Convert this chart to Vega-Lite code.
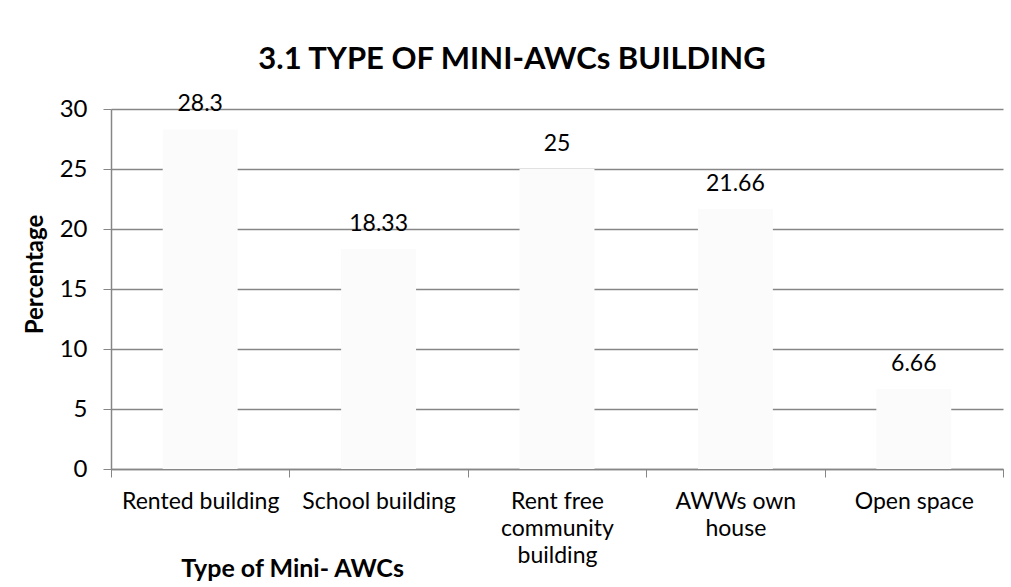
{
  "$schema": "https://vega.github.io/schema/vega-lite/v6.json",
  "width": 892,
  "height": 360,
  "autosize": {"type": "none"},
  "padding": {"left": 111, "top": 109, "right": 8, "bottom": 118},
  "background": "white",
  "config": {
    "font": "Lato",
    "view": {"stroke": null},
    "axis": {"labelFont": "Lato", "titleFont": "Lato"}
  },
  "title": {
    "text": "3.1 TYPE OF MINI-AWCs BUILDING",
    "font": "Lato",
    "fontSize": 31,
    "fontWeight": "bold",
    "color": "black",
    "anchor": "middle",
    "dx": -45,
    "offset": 17
  },
  "data": {
    "values": [
      {"type": "Rented building", "pct": 28.3},
      {"type": "School building", "pct": 18.33},
      {"type": "Rent free community building", "pct": 25},
      {"type": "AWWs own house", "pct": 21.66},
      {"type": "Open space", "pct": 6.66}
    ]
  },
  "encoding": {
    "x": {
      "field": "type",
      "type": "nominal",
      "sort": null,
      "scale": {"paddingInner": 0, "paddingOuter": 0},
      "axis": {
        "title": "Type of Mini- AWCs",
        "titleFontSize": 25,
        "titleFontWeight": "bold",
        "titleColor": "black",
        "titleAnchor": "start",
        "titleAlign": "center",
        "titleX": 181,
        "titleY": 107,
        "titleBaseline": "alphabetic",
        "labelAngle": 0,
        "labelFontSize": 23,
        "labelColor": "black",
        "labelPadding": 13,
        "labelLineHeight": 27,
        "labelBaseline": "top",
        "labelExpr": "datum.value == 'Rent free community building' ? ['Rent free', 'community', 'building'] : datum.value == 'AWWs own house' ? ['AWWs own', 'house'] : datum.value",
        "tickBand": "extent",
        "tickSize": 8,
        "tickColor": "#868686",
        "domainColor": "#868686",
        "domainWidth": 1.5,
        "grid": false
      }
    },
    "y": {
      "field": "pct",
      "type": "quantitative",
      "scale": {"domain": [0, 30]},
      "axis": {
        "title": "Percentage",
        "titleFontSize": 24,
        "titleFontWeight": "bold",
        "titleColor": "black",
        "titleY": 165,
        "titlePadding": 12,
        "values": [0, 5, 10, 15, 20, 25, 30],
        "labelFontSize": 24,
        "labelColor": "black",
        "labelPadding": 16,
        "tickSize": 8,
        "tickColor": "#868686",
        "domainColor": "#868686",
        "domainWidth": 1.5,
        "gridColor": "#868686",
        "gridWidth": 1.5
      }
    }
  },
  "layer": [
    {
      "mark": {"type": "bar", "color": "#fbfbfb", "width": {"band": 0.42}}
    },
    {
      "mark": {"type": "text", "dy": -18, "baseline": "alphabetic", "fontSize": 23, "color": "black"},
      "encoding": {"text": {"field": "pct", "type": "quantitative"}}
    }
  ]
}
